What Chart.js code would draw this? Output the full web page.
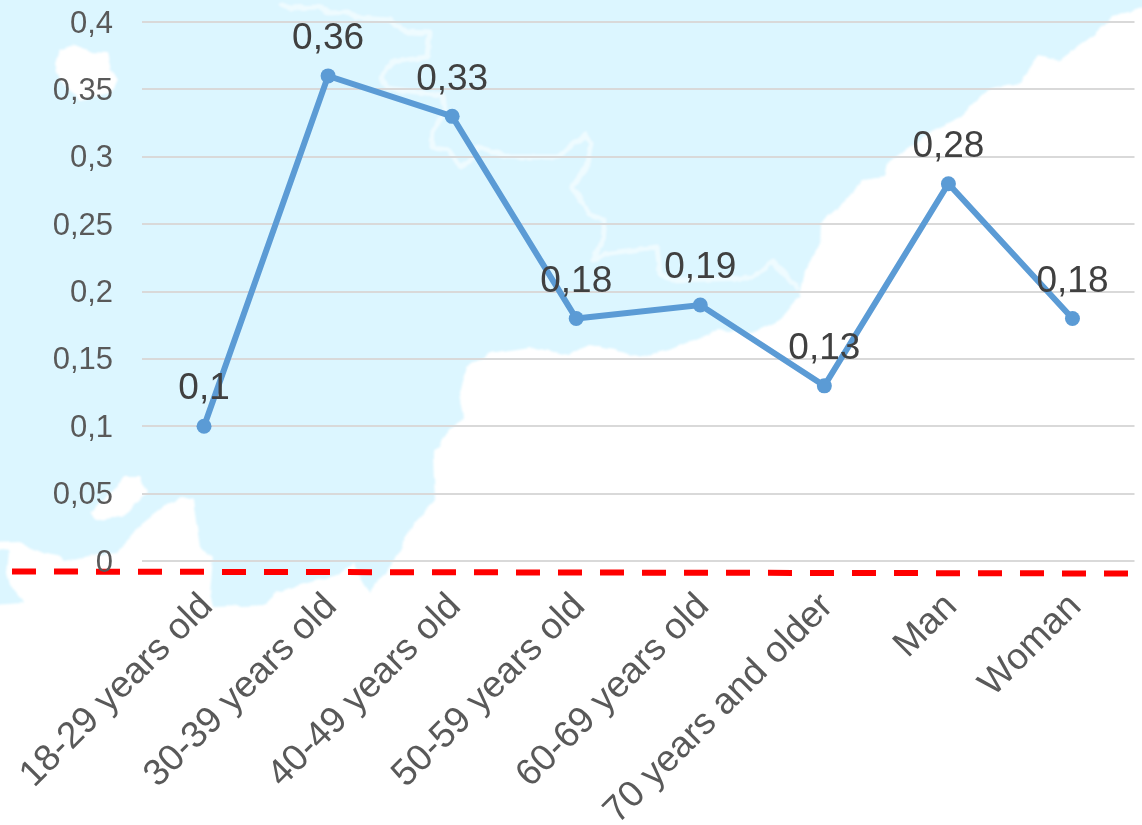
<!DOCTYPE html>
<html>
<head>
<meta charset="utf-8">
<script src="https://cdn.jsdelivr.net/npm/chart.js@4"></script>
<style>
html,body{margin:0;padding:0;background:#fff;width:1142px;height:825px;overflow:hidden}
#bg,#c{position:absolute;left:0;top:0}
</style>
</head>
<body>
<svg id="bg" width="1142" height="825" viewBox="0 0 1142 825">
  <defs>
    <filter id="rough" x="-5%" y="-5%" width="110%" height="110%" filterUnits="objectBoundingBox">
      <feTurbulence type="fractalNoise" baseFrequency="0.09" numOctaves="2" seed="4" result="n"/>
      <feDisplacementMap in="SourceGraphic" in2="n" scale="5" xChannelSelector="R" yChannelSelector="G" result="d"/>
      <feGaussianBlur in="d" stdDeviation="0.9"/>
    </filter>
  </defs>
  <rect x="0" y="0" width="1142" height="825" fill="#fff"/>
  <g filter="url(#rough)">
    <polygon fill="#DCF6FF" points="-10,-10 1152,-10 1152,4 1136,10 1112,17 1091,37 1060,60 1039,55 1019,83 988,90 960,117 939,127 887,163 884,177 863,180 846,200 821,223 820,247 804,270 799,297 780,320 752,333 718,330 669,350 638,357 614,350 589,345 569,355 530,347 490,353 466,367 460,393 464,418 443,437 433,457 435,500 411,527 395,560 377,583 370,593 353,563 337,575 300,585 273,593 267,605 213,607 210,593 213,557 200,547 193,500 183,497 163,507 137,528 117,553 93,555 63,561 57,555 33,550 20,541 -10,542"/>
    <polygon fill="#DCF6FF" points="-10,548 9,551 7,573 10,585 23,600 24,603 -10,605"/>
    <polygon fill="#fff" points="59,50 75,45 91,52 107,53 111,70 117,80 111,93 79,100 59,80 55,63"/>
    <polygon fill="#fff" points="90,513 100,503 117,487 123,477 140,477 147,493 133,507 120,517 97,520"/>
    <polyline fill="none" stroke="#fff" stroke-opacity="0.55" stroke-width="5" stroke-linejoin="round" stroke-linecap="round" points="280,5 290,8 320,7 330,13 348,12 357,18 390,20 407,32 430,33 427,57 392,62 382,77 387,88 417,92 443,95 445,110 433,130 432,148 447,150 462,167 473,157 477,147 510,157 557,157 585,135 592,143 587,167 572,187 590,215 605,220 603,240 593,260 610,253 657,247 660,273 670,280 750,278 773,262 797,288"/>
  </g>
  <line x1="12" y1="571.5" x2="1130" y2="573.5" stroke="#FF0000" stroke-width="6" stroke-dasharray="24 18"/>
</svg>
<canvas id="c" width="1142" height="825"></canvas>
<script>
const categories = ["18-29 years old","30-39 years old","40-49 years old","50-59 years old","60-69 years old","70 years and older","Man","Woman"];
const seriesValues = [0.1,0.36,0.33,0.18,0.19,0.13,0.28,0.18];
const valueLabels = ["0,1","0,36","0,33","0,18","0,19","0,13","0,28","0,18"];
const yTickLabels = ["0","0,05","0,1","0,15","0,2","0,25","0,3","0,35","0,4"];

const FONT = '"Liberation Sans", Arial, sans-serif';

const valueLabelPlugin = {
  id: 'valueLabels',
  afterDatasetsDraw(chart) {
    const ctx = chart.ctx;
    const meta = chart.getDatasetMeta(0);
    ctx.save();
    ctx.font = '37px ' + FONT;
    ctx.fillStyle = '#404040';
    ctx.textAlign = 'center';
    ctx.textBaseline = 'middle';
    meta.data.forEach((pt, i) => ctx.fillText(valueLabels[i], pt.x, pt.y - 37));
    ctx.restore();
  }
};

new Chart(document.getElementById('c'), {
  type: 'line',
  data: {
    labels: categories,
    datasets: [{
      data: seriesValues,
      borderColor: '#5B9BD5',
      backgroundColor: '#5B9BD5',
      borderWidth: 6,
      pointRadius: 7.5,
      pointHoverRadius: 7.5,
      pointBackgroundColor: '#5B9BD5',
      pointBorderColor: '#5B9BD5',
      pointBorderWidth: 0,
      tension: 0,
      fill: false,
      clip: false
    }]
  },
  options: {
    responsive: false,
    animation: false,
    devicePixelRatio: 1,
    layout: { padding: { top: 22, right: 7, left: 0, bottom: 0 } },
    plugins: { legend: { display: false }, title: { display: false }, tooltip: { enabled: false } },
    scales: {
      x: {
        offset: true,
        grid: { display: false, drawTicks: false },
        border: { display: false },
        ticks: {
          autoSkip: false,
          minRotation: 45,
          maxRotation: 45,
          padding: 24,
          labelOffset: 3,
          color: '#595959',
          font: { family: FONT, size: 37 }
        },
        afterFit(s) { s.height = 264; s.paddingLeft = 0; s.paddingRight = 0; }
      },
      y: {
        min: 0,
        max: 0.4,
        grid: { color: '#D9D9D9', lineWidth: 2, drawTicks: false },
        border: { display: false },
        ticks: {
          stepSize: 0.05,
          padding: 29,
          labelOffset: 2,
          color: '#595959',
          font: { family: FONT, size: 31 },
          callback: (v, i) => yTickLabels[i]
        },
        afterFit(s) { s.width = 142; s.paddingTop = 0; s.paddingBottom = 0; }
      }
    }
  },
  plugins: [valueLabelPlugin]
});
</script>
</body>
</html>
